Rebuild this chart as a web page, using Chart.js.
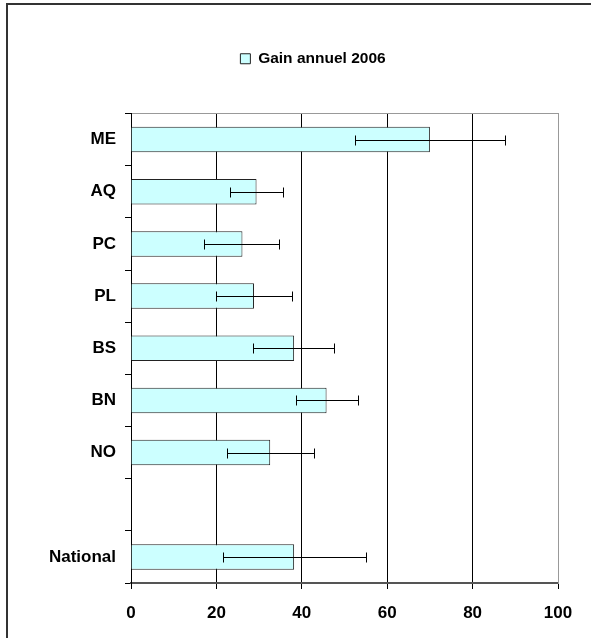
<!DOCTYPE html>
<html>
<head>
<meta charset="utf-8">
<script src="https://cdn.jsdelivr.net/npm/chart.js@4/dist/chart.umd.min.js"></script>
<style>
  html, body { margin: 0; padding: 0; background: #fff; overflow: hidden; }
  #wrap { position: relative; width: 591px; height: 638px; }
  #frame { position: absolute; left: 6px; top: 3px; width: 700px; height: 700px; border: 2px solid #333; box-sizing: border-box; pointer-events: none; }
</style>
</head>
<body>
<div id="wrap">
  <canvas id="gainChart" width="591" height="638"></canvas>
  <div id="frame"></div>
</div>
<script>
// region labels (one empty slot before National, as in the original)
const regions = ['ME', 'AQ', 'PC', 'PL', 'BS', 'BN', 'NO', '', 'National'];
const gain2006 = [70.0, 29.4, 26.1, 28.8, 38.2, 45.8, 32.6, null, 38.2];
const errLow = [52.5, 23.2, 17.2, 19.9, 28.5, 38.7, 22.4, null, 21.5];
const errHigh = [87.6, 35.6, 34.7, 37.8, 47.6, 53.1, 42.9, null, 55.0];
const xTicks = [0, 20, 40, 60, 80, 100];

// error bars drawn on top of the bars
const errorBars = {
  id: 'errorBars',
  afterDatasetsDraw(chart) {
    const { ctx, scales } = chart;
    const meta = chart.getDatasetMeta(0);
    ctx.save();
    ctx.strokeStyle = '#000';
    ctx.lineWidth = 1;
    meta.data.forEach((bar, i) => {
      if (errLow[i] == null) return;
      const y = Math.round(bar.y) + 0.5;
      const x1 = Math.round(scales.x.getPixelForValue(errLow[i])) + 0.5;
      const x2 = Math.round(scales.x.getPixelForValue(errHigh[i])) + 0.5;
      ctx.beginPath();
      ctx.moveTo(x1, y);
      ctx.lineTo(x2, y);
      ctx.moveTo(x1, y - 5);
      ctx.lineTo(x1, y + 5);
      ctx.moveTo(x2, y - 5);
      ctx.lineTo(x2, y + 5);
      ctx.stroke();
    });
    ctx.restore();
  }
};

const font = { family: '"Liberation Sans", Arial, sans-serif', size: 17, weight: 'bold' };
const legendFont = { family: '"Liberation Sans", Arial, sans-serif', size: 15.5, weight: 'bold' };
const hidden = { display: false };

new Chart(document.getElementById('gainChart'), {
  type: 'bar',
  data: {
    labels: regions,
    datasets: [{
      label: 'Gain annuel 2006',
      data: gain2006,
      backgroundColor: '#CCFFFF',
      borderColor: '#222',
      borderWidth: 1,
      barPercentage: 0.49,
      categoryPercentage: 1
    }]
  },
  options: {
    indexAxis: 'y',
    responsive: false,
    animation: false,
    layout: { padding: { left: 35, right: 0, top: 2, bottom: 0 } },
    plugins: {
      legend: {
        position: 'top',
        labels: { font: legendFont, color: '#000', boxWidth: 10, boxHeight: 10, padding: 49 }
      },
      tooltip: { enabled: false }
    },
    scales: {
      x: {
        min: 0,
        max: 100,
        afterBuildTicks: (s) => { s.ticks = xTicks.map(v => ({ value: v })); },
        afterFit: (s) => { s.height = 55; },
        grid: {
          color: (c) => c.tick && c.tick.value === 100 ? '#999' : '#000',
          tickColor: '#000',
          tickLength: 6,
          lineWidth: 1
        },
        border: { color: '#555', width: 2 },
        ticks: { font, color: '#000', padding: 14, maxRotation: 0 }
      },
      // top and right edges of the plot frame
      x2: {
        axis: 'x',
        type: 'linear',
        position: 'top',
        min: 0,
        max: 100,
        afterFit: (s) => { s.height = 37; },
        grid: { drawOnChartArea: false, drawTicks: false },
        border: { color: '#999', width: 1 },
        ticks: hidden
      },
      y: {
        afterFit: (s) => { s.width = 96; },
        grid: { drawOnChartArea: false, tickColor: '#000', tickLength: 6, offset: true },
        border: { color: '#000', width: 1 },
        ticks: { font, color: '#000', padding: 9 }
      },
      y2: {
        axis: 'y',
        type: 'category',
        position: 'right',
        labels: regions,
        afterFit: (s) => { s.width = 33; },
        grid: { drawOnChartArea: false, drawTicks: false },
        border: { color: '#999', width: 1 },
        ticks: hidden
      }
    }
  },
  plugins: [errorBars]
});
</script>
</body>
</html>
